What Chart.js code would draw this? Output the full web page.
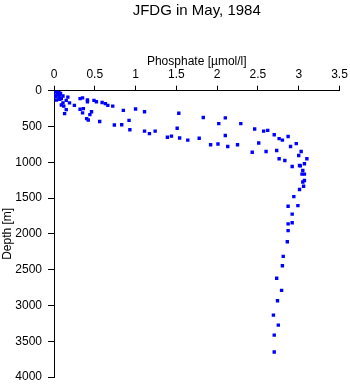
<!DOCTYPE html>
<html>
<head>
<meta charset="utf-8">
<script src="https://cdn.jsdelivr.net/npm/chart.js@4/dist/chart.umd.min.js"></script>
<style>
  html, body { margin: 0; padding: 0; background: #fff; }
  #wrap { width: 350px; height: 384px; }
</style>
</head>
<body>
<div id="wrap"><canvas id="chartProfile"></canvas></div>
<script>
// profile data
const phosphate = [
  0.01, 0.02, 0.04, 0.05, 0.01, 0.06, 0.07, 0.03, 0.11, 0.17,
  0.15, 0.11, 0.19, 0.12, 0.09, 0.15, 0.13, 0.25, 0.32, 0.35,
  0.41, 0.41, 0.49, 0.52, 0.59, 0.63, 0.66, 0.72, 0.32, 0.36,
  0.35, 0.46, 0.44, 0.40, 0.42, 0.56, 0.74, 0.83, 0.85, 0.92,
  0.93, 1.00, 1.11, 1.11, 1.17, 1.24, 1.39, 1.44, 1.51, 1.53,
  1.54, 1.64, 1.78, 1.83, 1.92, 2.01, 2.02, 2.10, 2.10, 2.13,
  2.25, 2.29, 2.43, 2.46, 2.51, 2.57, 2.60, 2.62, 2.70, 2.73,
  2.76, 2.76, 2.80, 2.83, 2.87, 2.90, 2.92, 2.97, 3.00, 3.01,
  3.02, 3.03, 3.05, 3.04, 3.07, 3.07, 3.10, 3.07, 3.05, 3.06,
  3.01, 2.94, 2.87, 2.99, 2.92, 2.87, 2.92, 2.87, 2.86, 2.81,
  2.80, 2.73, 2.79, 2.74, 2.69, 2.75, 2.70, 2.70,
  0.03, 0.06, 0.08, 0.02, 0.07, 0.09
];
const depth = [
  5, 15, 30, 50, 65, 90, 120, 130, 75, 90,
  135, 170, 170, 215, 200, 265, 320, 205, 110, 100,
  130, 155, 135, 155, 165, 180, 205, 215, 260, 250,
  310, 295, 335, 390, 410, 430, 480, 475, 275, 415,
  545, 255, 295, 565, 600, 565, 650, 635, 525, 315,
  660, 690, 665, 375, 755, 745, 460, 380, 625, 780,
  755, 460, 860, 535, 730, 565, 850, 555, 615, 835,
  670, 950, 690, 975, 640, 780, 1060, 740, 905, 1045,
  1050, 850, 1115, 1165, 1165, 1020, 950, 1255, 1275, 1335,
  1380, 1480, 1615, 1605, 1725, 1860, 1845, 1955, 2110, 2315,
  2445, 2620, 2790, 2935, 3135, 3275, 3415, 3650,
  10, 20, 40, 80, 60, 110
];
const titleText = "JFDG in May, 1984";
const xTitle = "Phosphate [\u00b5mol/l]";
const yTitle = "Depth [m]";

const points = phosphate.map((p, i) => ({ x: p, y: depth[i] }));
const font = "'Liberation Sans', Arial, sans-serif";

new Chart(document.getElementById("chartProfile"), {
  type: "scatter",
  data: {
    datasets: [{
      data: points,
      pointStyle: "rect",
      pointRadius: 2.4,
      pointBorderWidth: 0,
      backgroundColor: "#0000ff",
      borderColor: "#0000ff"
    }]
  },
  options: {
    responsive: true,
    maintainAspectRatio: false,
    animation: false,
    layout: { padding: { top: 0, left: 0, right: 10.5, bottom: 7 } },
    plugins: {
      legend: { display: false },
      tooltip: { enabled: false },
      title: {
        display: true,
        text: titleText,
        fullSize: false,
        color: "#000",
        font: { family: font, size: 15, weight: "normal" },
        padding: { top: 2, bottom: 0 }
      }
    },
    scales: {
      x: {
        type: "linear",
        position: "top",
        min: 0,
        max: 3.5,
        afterFit: s => {
          s.height = 70.7;
          s.paddingLeft = 0;
          s.paddingRight = 0;
        },
        ticks: {
          stepSize: 0.5,
          color: "#000",
          padding: 4,
          font: { family: font, size: 12 },
          callback: v => String(v)
        },
        grid: { drawOnChartArea: false, tickLength: 5, color: "#000" },
        border: { color: "#000", width: 1 },
        title: {
          display: true,
          text: xTitle,
          color: "#000",
          font: { family: font, size: 12 },
          padding: { top: 34.5, bottom: 0 }
        }
      },
      y: {
        type: "linear",
        reverse: true,
        min: 0,
        max: 4000,
        afterFit: s => {
          s.width = 54;
          s.paddingTop = 0;
          s.paddingBottom = 0;
        },
        ticks: {
          stepSize: 500,
          color: "#000",
          padding: 6,
          font: { family: font, size: 12 },
          callback: v => String(v)
        },
        grid: { drawOnChartArea: false, tickLength: 6, color: "#000" },
        border: { color: "#000", width: 1 },
        title: {
          display: true,
          text: yTitle,
          color: "#000",
          font: { family: font, size: 12 },
          padding: { top: 0, bottom: 0 }
        }
      }
    }
  }
});
</script>
</body>
</html>
